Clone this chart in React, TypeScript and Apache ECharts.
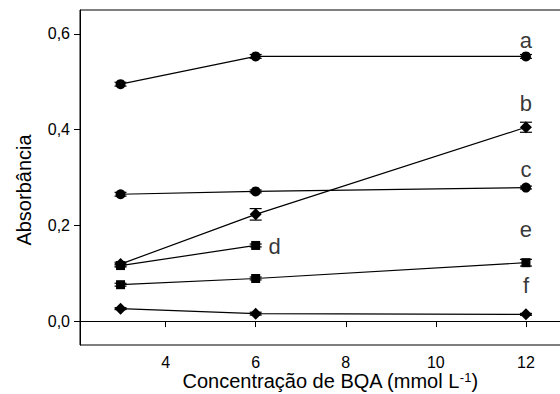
import React, { useEffect, useRef } from 'react';
import * as echarts from 'echarts';

const xValues = [3, 6, 12];
const xValuesD = [3, 6];
const seriesA = [0.495, 0.553, 0.553];
const errA = [0.004, 0.004, 0.004];
const seriesB = [0.119, 0.223, 0.405];
const errB = [0.004, 0.012, 0.0105];
const seriesC = [0.265, 0.271, 0.279];
const errC = [0.004, 0.003, 0.003];
const seriesD = [0.116, 0.158];
const errD = [0.003, 0.003];
const seriesE = [0.076, 0.089, 0.122];
const errE = [0.003, 0.003, 0.007];
const seriesF = [0.026, 0.0155, 0.014];
const errF = [0.002, 0.003, 0.002];
const labelNames = ['a', 'b', 'c', 'd', 'e', 'f'];
const labelX = [12, 12, 12, 6.42, 12, 12];
const labelY = [0.586, 0.454, 0.316, 0.156, 0.192, 0.075];
const xTicks = [4, 6, 8, 10, 12];
const yTicks = [0, 0.2, 0.4, 0.6];

const FONT = 'Liberation Sans, Arial, sans-serif';

function pts(xs: number[], ys: number[]) {
  return xs.map((x, i) => [x, ys[i]]);
}
function errPts(xs: number[], ys: number[], es: number[]) {
  return xs.map((x, i) => [x, ys[i], es[i]]);
}

const lineSeries = (name: string, data: number[][], symbol: string, size: number) => ({
  name,
  type: 'line',
  data,
  symbol,
  symbolSize: size,
  showSymbol: true,
  lineStyle: { color: '#000', width: 1.2 },
  itemStyle: { color: '#000' },
  z: 3,
});

const errSeries = (name: string, data: number[][]) => ({
  name: name + '-err',
  type: 'custom',
  data,
  z: 2,
  silent: true,
  renderItem: (params: any, api: any) => {
    const x = api.value(0);
    const y = api.value(1);
    const e = api.value(2);
    const top = api.coord([x, y + e]);
    const bot = api.coord([x, y - e]);
    const hw = 6;
    const st = { stroke: '#000', lineWidth: 1.2 };
    return {
      type: 'group',
      children: [
        { type: 'line', shape: { x1: top[0], y1: top[1], x2: bot[0], y2: bot[1] }, style: st },
        { type: 'line', shape: { x1: top[0] - hw, y1: top[1], x2: top[0] + hw, y2: top[1] }, style: st },
        { type: 'line', shape: { x1: bot[0] - hw, y1: bot[1], x2: bot[0] + hw, y2: bot[1] }, style: st },
      ],
    };
  },
});

export default function App() {
  const ref = useRef<HTMLDivElement>(null);
  useEffect(() => {
    if (!ref.current) return;
    const chart = echarts.init(ref.current, null, { renderer: 'svg' });
    chart.setOption({
      animation: false,
      backgroundColor: '#fff',
      grid: {
        left: 80,
        right: 0,
        top: 10,
        bottom: 49,
        outerBoundsMode: 'none',
        containLabel: false,
        show: true,
        borderColor: '#000',
        borderWidth: 1,
      },
      xAxis: {
        type: 'value',
        min: 2.1,
        max: 13.2,
        name: 'Concentração de BQA (mmol L{sup|-1})',
        nameLocation: 'middle',
        nameGap: 26,
        nameMoveOverlap: false,
        nameTextStyle: {
          fontFamily: FONT,
          fontSize: 20,
          lineHeight: 20,
          color: '#000',
          rich: { sup: { fontFamily: FONT, fontSize: 13, lineHeight: 14, color: '#000', verticalAlign: 'top' } },
        },
        axisLine: { show: true, lineStyle: { color: '#000', width: 1 } },
        axisTick: { show: true, customValues: xTicks, length: 6, lineStyle: { color: '#000' } },
        axisLabel: { customValues: xTicks, fontFamily: FONT, fontSize: 16, color: '#000', margin: 9 },
        splitLine: { show: false },
      },
      yAxis: {
        type: 'value',
        min: -0.05,
        max: 0.65,
        name: 'Absorbância',
        nameLocation: 'middle',
        nameGap: 46,
        nameMoveOverlap: false,
        nameTextStyle: { fontFamily: FONT, fontSize: 20, color: '#000', padding: [0, 25, 0, 0] },
        axisLine: { show: true, lineStyle: { color: '#000', width: 1 } },
        axisTick: { show: true, customValues: yTicks, length: 6, lineStyle: { color: '#000' } },
        axisLabel: {
          customValues: yTicks,
          fontFamily: FONT,
          fontSize: 16,
          color: '#000',
          margin: 10,
          formatter: (v: number) => v.toFixed(1).replace('.', ','),
        },
        splitLine: { show: false },
      },
      series: [
        errSeries('a', errPts(xValues, seriesA, errA)),
        errSeries('b', errPts(xValues, seriesB, errB)),
        errSeries('c', errPts(xValues, seriesC, errC)),
        errSeries('d', errPts(xValuesD, seriesD, errD)),
        errSeries('e', errPts(xValues, seriesE, errE)),
        errSeries('f', errPts(xValues, seriesF, errF)),
        lineSeries('a', pts(xValues, seriesA), 'circle', 10),
        lineSeries('b', pts(xValues, seriesB), 'diamond', 12),
        lineSeries('c', pts(xValues, seriesC), 'circle', 10),
        lineSeries('d', pts(xValuesD, seriesD), 'rect', 9),
        lineSeries('e', pts(xValues, seriesE), 'rect', 9),
        lineSeries('f', pts(xValues, seriesF), 'diamond', 12),
        {
          name: 'labels',
          type: 'scatter',
          silent: true,
          symbolSize: 0,
          z: 5,
          data: labelX.map((x, i) => ({ name: labelNames[i], value: [x, labelY[i]] })),
          label: {
            show: true,
            position: 'inside',
            formatter: '{b}',
            fontFamily: FONT,
            fontSize: 22,
            color: '#000',
          },
        },
      ],
    });
    return () => chart.dispose();
  }, []);
  return (
    <div style={{ position: 'absolute', left: 0, top: 0, width: 560, height: 394, overflow: 'hidden' }}>
      <div ref={ref} style={{ width: 580, height: 394 }} />
    </div>
  );
}
